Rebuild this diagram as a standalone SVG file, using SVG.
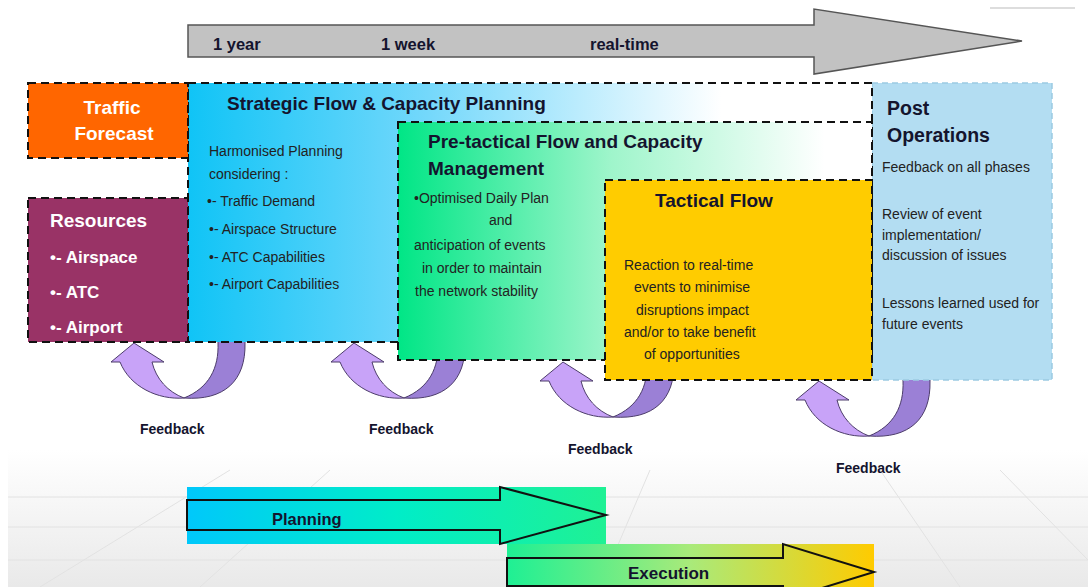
<svg xmlns="http://www.w3.org/2000/svg" width="1088" height="587" viewBox="0 0 1088 587">
<defs>
<linearGradient id="bgG" x1="0" y1="0" x2="0" y2="1">
<stop offset="0" stop-color="#ffffff"/>
<stop offset="1" stop-color="#e9e9e9"/>
</linearGradient>
<linearGradient id="stratG" gradientUnits="userSpaceOnUse" x1="188" y1="0" x2="872" y2="0">
<stop offset="0" stop-color="#10c4f6"/>
<stop offset="0.35" stop-color="#74d8fb"/>
<stop offset="0.78" stop-color="#ffffff"/>
</linearGradient>
<linearGradient id="preG" gradientUnits="userSpaceOnUse" x1="398" y1="0" x2="872" y2="0">
<stop offset="0" stop-color="#00e686"/>
<stop offset="0.45" stop-color="#9ff5cb"/>
<stop offset="0.9" stop-color="#ffffff"/>
</linearGradient>
<linearGradient id="planG" gradientUnits="userSpaceOnUse" x1="187" y1="0" x2="606" y2="0">
<stop offset="0" stop-color="#00c8fb"/>
<stop offset="0.5" stop-color="#00edc8"/>
<stop offset="1" stop-color="#1ff194"/>
</linearGradient>
<linearGradient id="execG" gradientUnits="userSpaceOnUse" x1="507" y1="0" x2="874" y2="0">
<stop offset="0" stop-color="#1ef094"/>
<stop offset="0.5" stop-color="#a9ea7a"/>
<stop offset="1" stop-color="#ffcb00"/>
</linearGradient>
<g id="fb">
<path class="fbd" d="M84,-25 L84,0 C85,25 75,45 50,55 C90,58 112,38 111,0 L111,-25 Z"/>
<path class="fbl" d="M0,0 L30,19 L18,19 C22,36 34,49 50,55 C24,57 -4,44 -14,19 L-23,19 Z"/>
</g>
</defs>
<style>
.dash{fill:none;stroke:#111;stroke-width:2;stroke-dasharray:8 5}
.fbl{fill:#c8a3f8;stroke:#4d3d6b;stroke-width:1}
.fbd{fill:#9b80d6;stroke:#4d3d6b;stroke-width:1}
.h{font-family:"Liberation Sans",Arial,sans-serif;font-weight:bold;fill:#14142e}
.w{font-family:"Liberation Sans",Arial,sans-serif;font-weight:bold;fill:#ffffff}
.t{font-family:"Liberation Sans",Arial,sans-serif;font-size:14px;fill:#222222}
.fbt{font-family:"Liberation Sans",Arial,sans-serif;font-weight:bold;font-size:14px;fill:#14142e}
.grid{stroke:#e2e2e2;stroke-width:1;fill:none}
</style>

<g id="background">
<rect x="0" y="0" width="1088" height="587" fill="#ffffff"/>
<rect x="8" y="450" width="1080" height="137" fill="url(#bgG)"/>
<path class="grid" d="M8,497 H1088 M8,527 H1088 M8,560 H1088 M40,587 L230,470 M200,587 L330,470 M600,587 L650,470 M880,470 L960,587 M1000,470 L1088,560"/>
<line x1="990" y1="8" x2="1075" y2="8" stroke="#dddddd" stroke-width="2"/>
</g>

<g id="timeline">
<path d="M188,25 L814,25 L814,9 L1022,41 L814,74 L814,57 L188,57 Z" fill="#c2c2c2" stroke="#555555" stroke-width="1.5"/>
<text class="h" x="213" y="50" font-size="16.5">1 year</text>
<text class="h" x="381" y="50" font-size="16.5">1 week</text>
<text class="h" x="590" y="50" font-size="16.5">real-time</text>
</g>

<g id="connectors">
<use href="#fb" transform="translate(134,343)"/>
<use href="#fb" transform="translate(354,343)"/>
<use href="#fb" transform="translate(563,362)"/>
<use href="#fb" transform="translate(819,381)"/>
</g>

<g id="post-operations">
<rect x="872" y="83" width="180" height="297" fill="#b3ddf2" stroke="#9ccae2" stroke-width="1.5" stroke-dasharray="6 4"/>
<text class="h" x="887" y="115" font-size="19.5">Post</text>
<text class="h" x="887" y="142" font-size="19.5">Operations</text>
<text class="t" x="882" y="172">Feedback on all phases</text>
<text class="t" x="882" y="219">Review of event</text>
<text class="t" x="882" y="240">implementation/</text>
<text class="t" x="882" y="260">discussion of issues</text>
<text class="t" x="882" y="308">Lessons learned used for</text>
<text class="t" x="882" y="329">future events</text>
</g>

<g id="strategic">
<rect x="188" y="83" width="684" height="259" fill="url(#stratG)"/>
<rect x="188" y="83" width="684" height="259" class="dash"/>
<text class="h" x="227" y="110" font-size="19">Strategic Flow &amp; Capacity Planning</text>
<text class="t" x="209" y="156">Harmonised Planning</text>
<text class="t" x="209" y="179">considering :</text>
<text class="t" x="207" y="206">•- Traffic Demand</text>
<text class="t" x="209" y="234">•- Airspace Structure</text>
<text class="t" x="209" y="262">•- ATC Capabilities</text>
<text class="t" x="209" y="289">•- Airport Capabilities</text>
</g>

<g id="pre-tactical">
<rect x="398" y="122" width="474" height="238" fill="url(#preG)"/>
<rect x="398" y="122" width="474" height="238" class="dash"/>
<text class="h" x="428" y="148" font-size="19">Pre-tactical Flow and Capacity</text>
<text class="h" x="428" y="175" font-size="19">Management</text>
<text class="t" x="414" y="203">•Optimised Daily Plan</text>
<text class="t" x="489" y="225">and</text>
<text class="t" x="414" y="250">anticipation of events</text>
<text class="t" x="422" y="273">in order to maintain</text>
<text class="t" x="415" y="296">the network stability</text>
</g>

<g id="tactical">
<rect x="605" y="180" width="267" height="200" fill="#ffcc00"/>
<rect x="605" y="180" width="267" height="200" class="dash"/>
<text class="h" x="655" y="207" font-size="19">Tactical Flow</text>
<text class="t" x="624" y="270">Reaction to real-time</text>
<text class="t" x="634" y="292">events to minimise</text>
<text class="t" x="636" y="315">disruptions impact</text>
<text class="t" x="624" y="337">and/or to take benefit</text>
<text class="t" x="644" y="359">of opportunities</text>
</g>

<g id="traffic-forecast">
<rect x="28" y="83" width="160" height="75" fill="#ff6600"/>
<rect x="28" y="83" width="160" height="75" class="dash"/>
<text class="w" x="112" y="114" font-size="19" text-anchor="middle">Traffic</text>
<text class="w" x="114" y="140" font-size="19" text-anchor="middle">Forecast</text>
</g>

<g id="resources">
<rect x="28" y="198" width="160" height="144" fill="#993366"/>
<rect x="28" y="198" width="160" height="144" class="dash"/>
<text class="w" x="50" y="227" font-size="19">Resources</text>
<text class="w" x="50" y="263" font-size="17">•- Airspace</text>
<text class="w" x="50" y="298" font-size="17">•- ATC</text>
<text class="w" x="50" y="333" font-size="17">•- Airport</text>
</g>

<g id="feedback-labels">
<text class="fbt" x="140" y="434">Feedback</text>
<text class="fbt" x="369" y="434">Feedback</text>
<text class="fbt" x="568" y="454">Feedback</text>
<text class="fbt" x="836" y="473">Feedback</text>
</g>

<g id="planning">
<rect x="187" y="487" width="419" height="57" fill="url(#planG)"/>
<path d="M187,500 L500,500 L500,487 L606,515 L500,544 L500,530 L187,530 Z" fill="none" stroke="#111" stroke-width="2"/>
<text class="h" x="272" y="525" font-size="16.5">Planning</text>
</g>

<g id="execution">
<rect x="507" y="544" width="367" height="43" fill="url(#execG)"/>
<path d="M507,558 L783,558 L783,544 L874,572 L783,600 L783,586 L507,586 Z" fill="none" stroke="#111" stroke-width="2"/>
<text class="h" x="628" y="579" font-size="17">Execution</text>
</g>
</svg>
